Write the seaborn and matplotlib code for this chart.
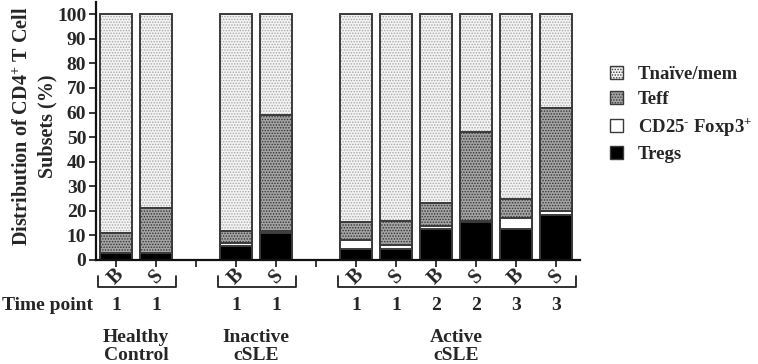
import matplotlib
matplotlib.use('Agg')
import matplotlib.pyplot as plt
import matplotlib.patches as mpatches
import matplotlib.transforms as mtransforms
import seaborn as sns
import numpy as np
import pandas as pd

# ==========================================
# Data (percent of CD4+ T cells)
# ==========================================
slots = ['HC_B', 'HC_S', 'IN_B', 'IN_S', 'A1_B', 'A1_S', 'A2_B', 'A2_S', 'A3_B', 'A3_S']
order = ['HC_B', 'HC_S', 'gap1', 'IN_B', 'IN_S', 'gap2',
         'A1_B', 'A1_S', 'A2_B', 'A2_S', 'A3_B', 'A3_S']
sample = ['B', 'S', 'B', 'S', 'B', 'S', 'B', 'S', 'B', 'S']
time_point = ['1', '1', '1', '1', '1', '1', '2', '2', '3', '3']
tregs = [3, 3, 5.5, 11, 4.5, 4.5, 12.5, 15.5, 12.5, 18.5]
cd25 = [0, 0, 1.5, 1, 3.5, 1.5, 1.5, 0.5, 4.5, 1.5]
teff = [8, 18, 5, 47, 7.5, 10, 9, 36, 8, 42]
group_names = ['Healthy\nControl', 'Inactive\ncSLE', 'Active\ncSLE']
group_members = [['HC_B', 'HC_S'], ['IN_B', 'IN_S'],
                 ['A1_B', 'A1_S', 'A2_B', 'A2_S', 'A3_B', 'A3_S']]
legend_labels = ['Tna\u00efve/mem', 'Teff', 'CD25$^{\u2010}$ Foxp3$^{+}$', 'Tregs']

df = pd.DataFrame({'slot': slots, 'Tregs': tregs, 'CD25': cd25, 'Teff': teff})
df['Tnaive'] = 100 - df['Tregs'] - df['CD25'] - df['Teff']
df['top_tregs'] = df['Tregs']
df['top_cd25'] = df['top_tregs'] + df['CD25']
df['top_teff'] = df['top_cd25'] + df['Teff']
df['top_naive'] = df['top_teff'] + df['Tnaive']

# ==========================================
# Style
# ==========================================
sns.set_style('ticks')
plt.rcParams['font.family'] = ['Liberation Serif', 'DejaVu Serif']
plt.rcParams['font.weight'] = 'bold'
plt.rcParams['mathtext.fontset'] = 'custom'
plt.rcParams['mathtext.rm'] = 'Liberation Serif:bold'
plt.rcParams['mathtext.default'] = 'rm'
plt.rcParams['hatch.linewidth'] = 0.7

W, H = 758, 364
fig = plt.figure(figsize=(W / 100, H / 100), dpi=100)
ax = fig.add_axes([96 / W, 1 - 260 / H, (580 - 96) / W, (260 - 2) / H])

edge = '#3a3a3a'
layers = [
    ('top_naive', '#f3f3f3', '......', '#a8a8a8'),
    ('top_teff', '#a4a4a4', '......', '#333333'),
    ('top_cd25', 'white', '', 'white'),
    ('top_tregs', 'black', '', 'black'),
]
for col, face, hatch, hcol in layers:
    sns.barplot(data=df, x='slot', y=col, order=order, color=face, saturation=1,
                width=0.82, errorbar=None, hatch=hatch, edgecolor=hcol,
                linewidth=0, ax=ax)
    sns.barplot(data=df, x='slot', y=col, order=order, fill=False, color=edge,
                width=0.82, errorbar=None, linewidth=1.4, ax=ax)

ax.set_xlim(-0.5, 11.6)
ax.set_ylim(0, 105)
ax.set_yticks(np.arange(0, 101, 10))
ax.set_xticks(np.arange(len(order)))
ax.set_xticklabels([])
ax.set_xlabel('')
ax.set_ylabel('')
ax.tick_params(axis='y', labelsize=14, length=5, width=1.3, pad=2)
ax.tick_params(axis='x', length=5, width=1.3)
for lab in ax.get_yticklabels():
    lab.set_fontweight('bold')
for s in ['top', 'right']:
    ax.spines[s].set_visible(False)
for s in ['left', 'bottom']:
    ax.spines[s].set_linewidth(1.6)
    ax.spines[s].set_color('#111111')

# ==========================================
# Annotations under the axis
# ==========================================
trans = mtransforms.blended_transform_factory(ax.transData, fig.transFigure)


def fy(py):
    return 1 - py / H


for s, lab, tp in zip(slots, sample, time_point):
    x = order.index(s)
    ax.text(x, fy(277), lab, transform=trans, ha='center', va='center',
            rotation=45, fontsize=14.5, fontweight='bold')
    ax.text(x, fy(306), tp, transform=trans, ha='center', va='center',
            fontsize=14, fontweight='bold')

fig.text(2 / W, fy(306), 'Time point', ha='left', va='center',
         fontsize=14, fontweight='bold')

for name, members in zip(group_names, group_members):
    xs = [order.index(m) for m in members]
    x0, x1 = min(xs) - 0.45, max(xs) + 0.5
    ax.plot([x0, x0, x1, x1], [fy(276), fy(287), fy(287), fy(276)],
            transform=trans, clip_on=False, color='#222222', lw=1.3)
    ax.text((min(xs) + max(xs)) / 2, fy(329), name, transform=trans,
            ha='center', va='top', fontsize=14, fontweight='bold',
            linespacing=1.05)

fig.text(35 / W, fy(126), 'Distribution of CD4$^{+}$ T Cell\nSubsets (%)',
         rotation=90, ha='center', va='center', fontsize=14.5,
         fontweight='bold', multialignment='center', linespacing=1.3)

# ==========================================
# Legend
# ==========================================
handles = [
    mpatches.Patch(facecolor='#f3f3f3', edgecolor=edge, hatch='......', lw=1.0),
    mpatches.Patch(facecolor='#a4a4a4', edgecolor=edge, hatch='......', lw=1.0),
    mpatches.Patch(facecolor='white', edgecolor=edge, lw=1.0),
    mpatches.Patch(facecolor='black', edgecolor=edge, lw=1.0),
]
fig.legend(handles, legend_labels, loc='upper left',
           bbox_to_anchor=(610 / W, fy(66)), frameon=False,
           prop={'family': ['Liberation Serif', 'DejaVu Serif'],
                 'weight': 'bold', 'size': 13.5},
           handlelength=0.7, handleheight=0.7, handletextpad=0.8,
           labelspacing=0.42, borderpad=0, borderaxespad=0)

fig.savefig('out.png', dpi=100)
plt.close()
